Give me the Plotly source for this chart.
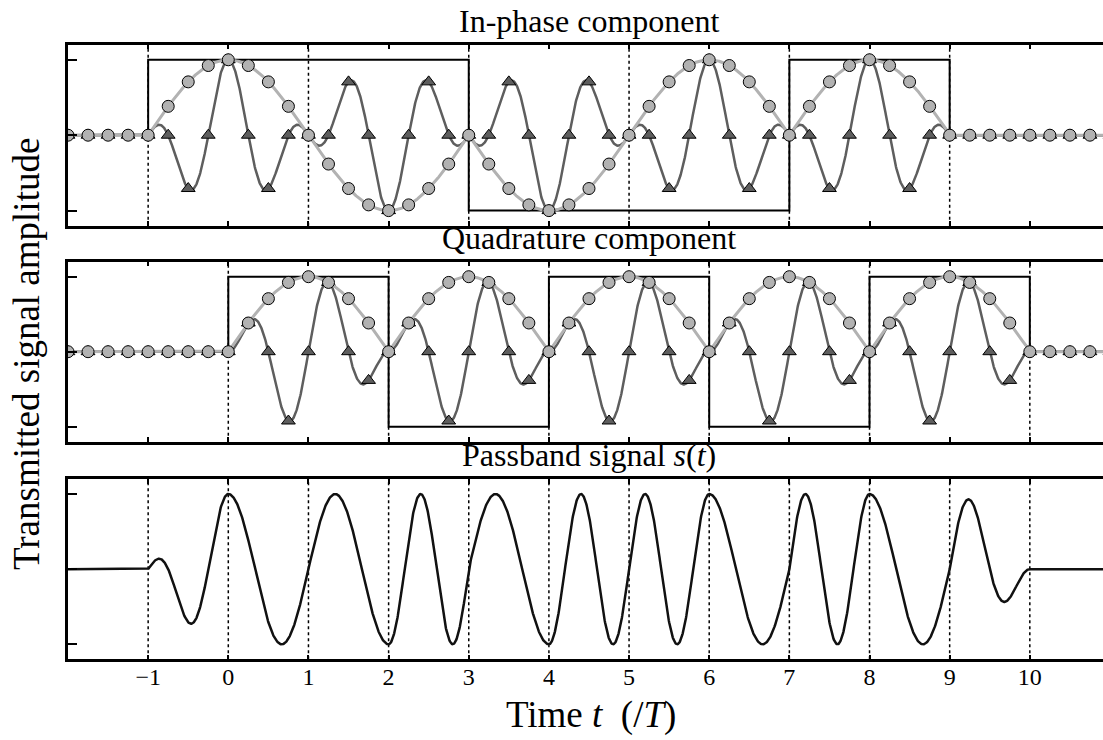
import numpy as np
import plotly.graph_objects as go
from plotly.subplots import make_subplots

# ---- data: MSK bit streams (each bit held for 2T) ----
i_edges = [-1, 1, 3, 5, 7, 9]
i_bits = [1, 1, -1, -1, 1]
q_edges = [0, 2, 4, 6, 8, 10]
q_bits = [1, -1, 1, -1, 1]
carrier_freq = 1.0          # cycles per T
t_start, t_stop = -2.0, 11.0
tick_times = list(range(-1, 11))
tick_text = ["\u22121"] + [str(k) for k in range(0, 11)]

FONT = "Liberation Serif"
LIGHT = "#b2b2b2"
DARK = "#5e5e5e"


def hold(tt, edges, bits):
    a = np.zeros_like(tt)
    for k, b in enumerate(bits):
        a[(tt >= edges[k]) & (tt < edges[k + 1])] = b
    return a


def components(tt):
    env_i = hold(tt, i_edges, i_bits) * np.cos(np.pi * tt / 2)
    env_q = hold(tt, q_edges, q_bits) * np.sin(np.pi * tt / 2)
    mod_i = env_i * np.cos(2 * np.pi * carrier_freq * tt)
    mod_q = env_q * np.sin(2 * np.pi * carrier_freq * tt)
    return env_i, env_q, mod_i, mod_q


t = np.linspace(t_start, t_stop, 2601)
tm = np.arange(t_start, t_stop + 1e-9, 0.25)
env_i, env_q, mod_i, mod_q = components(t)
env_i_m, env_q_m, mod_i_m, mod_q_m = components(tm)
passband = mod_i + mod_q

fig = make_subplots(rows=3, cols=1)


def square(edges, bits):
    xs = [t_start] + list(edges) + [t_stop]
    ys = [0] + list(bits) + [0, 0]
    return xs, ys


def add_component(row, edges, bits, env, mod, env_m, mod_m):
    xs, ys = square(edges, bits)
    fig.add_trace(go.Scatter(x=xs, y=ys, mode="lines", line=dict(color="black", width=2, shape="hv"),
                             hoverinfo="skip"), row=row, col=1)
    fig.add_trace(go.Scatter(x=t, y=mod, mode="lines", line=dict(color=DARK, width=2.5)), row=row, col=1)
    fig.add_trace(go.Scatter(x=tm, y=mod_m, mode="markers",
                             marker=dict(symbol="triangle-up", size=12, color=DARK,
                                         line=dict(color="black", width=1))), row=row, col=1)
    fig.add_trace(go.Scatter(x=t, y=env, mode="lines", line=dict(color=LIGHT, width=3)), row=row, col=1)
    fig.add_trace(go.Scatter(x=tm, y=env_m, mode="markers",
                             marker=dict(symbol="circle", size=12, color=LIGHT,
                                         line=dict(color="black", width=1))), row=row, col=1)


add_component(1, i_edges, i_bits, env_i, mod_i, env_i_m, mod_i_m)
add_component(2, q_edges, q_bits, env_q, mod_q, env_q_m, mod_q_m)
fig.add_trace(go.Scatter(x=t, y=passband, mode="lines", line=dict(color="#111111", width=2.5)), row=3, col=1)

# dotted guides at the symbol boundaries
guides = {1: [-1, 1, 3, 5, 7, 9], 2: [0, 2, 4, 6, 8, 10], 3: list(range(-1, 11))}
for row, xs in guides.items():
    xref = "x" if row == 1 else f"x{row}"
    yref = "y domain" if row == 1 else f"y{row} domain"
    for xv in xs:
        fig.add_shape(type="line", xref=xref, yref=yref, x0=xv, x1=xv, y0=0, y1=1,
                      line=dict(color="black", width=1.5, dash="dot"), layer="below")

H = 740.0
domains = {1: (44.7, 225.7), 2: (261.7, 441.7), 3: (479.0, 659.3)}
for row, (top, bot) in domains.items():
    fig.update_yaxes(row=row, col=1, domain=[(H - bot) / H, (H - top) / H], range=[-1.2, 1.2],
                     tickvals=[-1, 0, 1], showticklabels=False, ticks="inside", ticklen=9, tickwidth=1.5,
                     tickcolor="black", showline=True, linecolor="black", linewidth=2.5, mirror=False,
                     showgrid=False, zeroline=False)
    fig.update_xaxes(row=row, col=1, domain=[0, 1], range=[t_start, 10.913], tickvals=tick_times,
                     ticktext=tick_text, showticklabels=(row == 3), ticks="inside", ticklen=5,
                     tickwidth=1.5, tickcolor="black", showline=True, linecolor="black", linewidth=2.5,
                     mirror="ticks", showgrid=False, zeroline=False,
                     tickfont=dict(family=FONT, size=24, color="black"))
fig.update_xaxes(row=3, col=1, ticklabelstandoff=-6)

W_PLOT = 1035.0
cx = (589 - 68) / W_PLOT
titles = [("In-phase component", 44.7), ("Quadrature component", 261.7),
          ("Passband signal <i>s</i>(<i>t</i>)", 479.0)]
for text, top in titles:
    fig.add_annotation(text=text, xref="paper", yref="paper", x=cx, y=(H - top + 4) / H,
                       xanchor="center", yanchor="bottom", showarrow=False,
                       font=dict(family=FONT, size=32, color="black"))

fig.add_annotation(text="Time <i>t</i>  (/<i>T</i>)", xref="paper", yref="paper", x=(591 - 68) / W_PLOT,
                   y=(H - 715) / H, xanchor="center", yanchor="middle", showarrow=False,
                   font=dict(family=FONT, size=37, color="black"))
fig.add_annotation(text="Transmitted signal amplitude", xref="paper", yref="paper", x=(26 - 68) / W_PLOT,
                   y=(H - 354) / H, xanchor="center", yanchor="middle", textangle=-90, showarrow=False,
                   font=dict(family=FONT, size=37, color="black"))

fig.update_layout(width=1103, height=740, margin=dict(l=68, r=0, t=0, b=0),
                  paper_bgcolor="white", plot_bgcolor="white", showlegend=False)

fig.write_html("out.html")
